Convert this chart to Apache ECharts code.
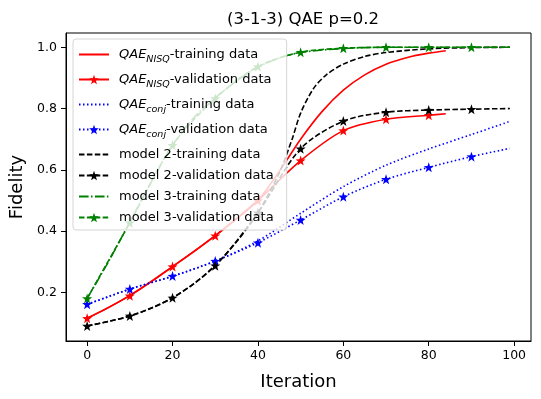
<!DOCTYPE html>
<html>
<head>
<meta charset="utf-8">
<script src="https://cdn.jsdelivr.net/npm/echarts@6/dist/echarts.min.js"></script>
<style>html,body{margin:0;padding:0;background:#fff}#c{width:541px;height:399px}</style>
</head>
<body>
<div id="c"></div>
<script>
// ---- data ----
const title = "(3-1-3) QAE p=0.2";
const xTicks = [0, 20, 40, 60, 80, 100];
const yTicks = [0.2, 0.4, 0.6, 0.8, 1.0];

const nisqTrainX = [0, 5, 10, 15, 20, 25, 30, 35, 40, 45, 50, 55, 60, 65, 70, 75, 80, 84];
const nisqTrainY = [0.115, 0.15, 0.19, 0.235, 0.284, 0.333, 0.385, 0.44, 0.50, 0.595, 0.70, 0.79, 0.86, 0.91, 0.945, 0.967, 0.981, 0.989];
const nisqValX = [0, 10, 20, 30, 40, 50, 60, 70, 80, 84];
const nisqValY = [0.115, 0.189, 0.284, 0.385, 0.50, 0.63, 0.728, 0.765, 0.778, 0.783];

const conjTrainX = [0, 10, 20, 30, 40, 50, 60, 70, 80, 90, 99];
const conjTrainY = [0.16, 0.21, 0.252, 0.302, 0.368, 0.458, 0.545, 0.615, 0.668, 0.715, 0.758];
const conjValX = [0, 10, 20, 30, 40, 50, 60, 70, 80, 90, 99];
const conjValY = [0.161, 0.211, 0.253, 0.302, 0.362, 0.436, 0.512, 0.569, 0.608, 0.643, 0.670];

const m2TrainX = [0, 5, 10, 15, 20, 25, 30, 35, 40, 45, 48, 50, 53, 56, 60, 65, 70, 80, 90, 99];
const m2TrainY = [0.09, 0.105, 0.122, 0.148, 0.182, 0.228, 0.288, 0.365, 0.46, 0.59, 0.70, 0.785, 0.865, 0.91, 0.945, 0.97, 0.983, 0.995, 0.999, 1.0];
const m2ValX = [0, 10, 20, 30, 40, 50, 60, 70, 80, 90, 99];
const m2ValY = [0.09, 0.123, 0.182, 0.287, 0.46, 0.669, 0.759, 0.788, 0.795, 0.798, 0.80];

const m3TrainX = [0, 5, 10, 15, 20, 25, 30, 35, 40, 45, 50, 60, 70, 80, 90, 99];
const m3TrainY = [0.18, 0.30, 0.43, 0.56, 0.68, 0.77, 0.835, 0.89, 0.935, 0.965, 0.983, 0.996, 1.0, 1.0, 1.0, 1.0];
const m3ValX = [0, 10, 20, 30, 40, 50, 60, 70, 80, 90, 99];
const m3ValY = [0.18, 0.427, 0.68, 0.833, 0.937, 0.984, 0.997, 1.0, 1.0, 1.0, 1.0];

const names = [
  "QAE_NISQ-training data", "QAE_NISQ-validation data",
  "QAE_conj-training data", "QAE_conj-validation data",
  "model 2-training data", "model 2-validation data",
  "model 3-training data", "model 3-validation data"
];
// ---------------------------------------

const FONT = "DejaVu Sans";
const STAR = "path://M0,-10L2.35,-3.24L9.51,-3.09L3.8,1.24L5.88,8.09L0,4L-5.88,8.09L-3.8,1.24L-9.51,-3.09L-2.35,-3.24Z";

function pts(xs, ys) { return xs.map((x, i) => [x, ys[i]]); }
function markPts(xs, ys) {
  return xs.map((x, i) => (x % 10 === 0) ? [x, ys[i]] : { value: [x, ys[i]], symbol: 'none' });
}
const DASH = [5.5, 2.4], DOT = [1.5, 2.5], DASHDOT = [9.6, 2.4, 1.5, 2.4];

function mk(name, data, color, type, star) {
  return {
    type: 'line', name, data,
    smooth: 0.3,
    symbol: star ? STAR : 'none', symbolSize: 10,
    showAllSymbol: true,
    lineStyle: { color, width: 1.6, type },
    itemStyle: { color },
    emphasis: { disabled: true },
    z: 2
  };
}

const series = [
  mk(names[0], pts(nisqTrainX, nisqTrainY), '#ff0000', 'solid', false),
  mk(names[1], markPts(nisqValX, nisqValY), '#ff0000', 'solid', true),
  mk(names[2], pts(conjTrainX, conjTrainY), '#0000ff', DOT, false),
  mk(names[3], markPts(conjValX, conjValY), '#0000ff', DOT, true),
  mk(names[4], pts(m2TrainX, m2TrainY), '#000000', DASH, false),
  mk(names[5], markPts(m2ValX, m2ValY), '#000000', DASH, true),
  mk(names[6], pts(m3TrainX, m3TrainY), '#008000', DASHDOT, false),
  mk(names[7], markPts(m3ValX, m3ValY), '#008000', DASH, true)
];

function fmtLegend(name) {
  const m = name.match(/^QAE_(\w+)(-.*)$/);
  if (m) return '{i|QAE}{s|' + m[1] + '}{t|' + m[2] + '}';
  return '{n|' + name + '}';
}

const legendData = names.map((n, i) => (i % 2 === 0) ? { name: n, itemStyle: { opacity: 0 } } : { name: n });

const chart = echarts.init(document.getElementById('c'), null, { renderer: 'canvas' });
chart.setOption({
  animation: false,
  backgroundColor: '#fff',
  title: {
    text: title, left: 298, top: 6, textAlign: 'center',
    textStyle: { fontFamily: FONT, fontSize: 16.5, fontWeight: 'normal', color: '#000' }
  },
  grid: { left: 66, right: 10, top: 33, bottom: 58, show: true, borderColor: '#000', borderWidth: 1, backgroundColor: 'transparent' },
  xAxis: {
    type: 'value', min: -4.95, max: 103.95,
    name: 'Iteration', nameLocation: 'middle', nameGap: 32,
    nameTextStyle: { fontFamily: FONT, fontSize: 18, color: '#000' },
    axisLine: { show: true, onZero: false, lineStyle: { color: '#000', width: 1 } },
    axisTick: { show: true, customValues: xTicks, length: 5, lineStyle: { color: '#000' } },
    axisLabel: { customValues: xTicks, fontFamily: FONT, fontSize: 12.5, color: '#000', margin: 8 },
    splitLine: { show: false }
  },
  yAxis: {
    type: 'value', min: 0.041, max: 1.0467,
    name: 'Fidelity', nameLocation: 'middle', nameGap: 38, nameRotate: 90,
    nameTextStyle: { fontFamily: FONT, fontSize: 18, color: '#000' },
    axisLine: { show: true, onZero: false, lineStyle: { color: '#000', width: 1 } },
    axisTick: { show: true, customValues: yTicks, length: 5, lineStyle: { color: '#000' } },
    axisLabel: { customValues: yTicks, fontFamily: FONT, fontSize: 12.5, color: '#000', margin: 9,
      formatter: v => Number(v).toFixed(1) },
    splitLine: { show: false }
  },
  legend: {
    orient: 'vertical', left: 73, top: 39,
    data: legendData,
    itemWidth: 30, itemHeight: 12, itemGap: 8,
    padding: [9, 13, 6, 5],
    backgroundColor: 'rgba(255,255,255,0.8)',
    borderColor: '#d5d5d5', borderWidth: 1, borderRadius: 3,
    formatter: fmtLegend,
    selectedMode: false,
    textStyle: {
      fontFamily: FONT, fontSize: 13, color: '#000', padding: [0, 0, 0, 5],
      rich: {
        i: { fontFamily: FONT, fontSize: 13, fontStyle: 'italic', color: '#000', lineHeight: 21 },
        s: { fontFamily: FONT, fontSize: 9.5, fontStyle: 'italic', color: '#000', lineHeight: 13, verticalAlign: 'bottom' },
        t: { fontFamily: FONT, fontSize: 13, color: '#000', lineHeight: 21 },
        n: { fontFamily: FONT, fontSize: 13, color: '#000', lineHeight: 17 }
      }
    }
  },
  series
});
</script>
</body>
</html>
